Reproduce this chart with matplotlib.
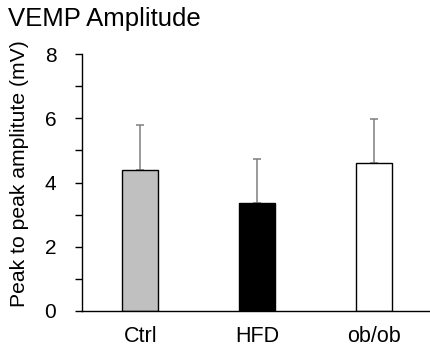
import matplotlib
matplotlib.use('Agg')
import matplotlib.pyplot as plt
from matplotlib.ticker import MultipleLocator

plt.rcParams['font.family'] = ['Liberation Sans', 'DejaVu Sans']

groups = ['Ctrl', 'HFD', 'ob/ob']
means = [4.4, 3.35, 4.6]
errs = [1.4, 1.39, 1.39]
fills = ['#c0c0c0', '#000000', '#ffffff']

fig = plt.figure(figsize=(4.30, 3.48), dpi=100)
ax = fig.add_axes([82 / 430, 37 / 348, 350 / 430, 257 / 348])

ax.bar(range(len(groups)), means, width=0.31, color=fills,
       edgecolor='black', linewidth=1.0, zorder=2)
ax.errorbar(range(len(groups)), means, yerr=[[0] * len(errs), errs],
            fmt='none', ecolor='#7f7f7f', elinewidth=1.1, capsize=3,
            capthick=1.1, zorder=1)

ax.set_xlim(-0.5, 2.5)
ax.set_ylim(0, 8)
ax.yaxis.set_major_locator(MultipleLocator(2))
ax.yaxis.set_minor_locator(MultipleLocator(1))
ax.set_xticks(range(len(groups)))
ax.set_xticklabels(groups, fontsize=15.5)
ax.tick_params(axis='x', length=0, pad=11)
ax.tick_params(axis='y', which='both', direction='out', length=5,
               width=1.0, labelsize=15, pad=13.5)
for s in ['top', 'right']:
    ax.spines[s].set_visible(False)
ax.spines['left'].set_linewidth(1.0)
ax.spines['bottom'].set_linewidth(1.0)

ax.set_ylabel('Peak to peak amplitute (mV)', fontsize=15.2)
ax.yaxis.set_label_coords(29 / 430, 0.5, transform=fig.transFigure)
fig.text(8 / 430, 1 - 19 / 348, 'VEMP Amplitude', fontsize=18.5,
         ha='left', va='center')

fig.savefig('out.png', dpi=100)
